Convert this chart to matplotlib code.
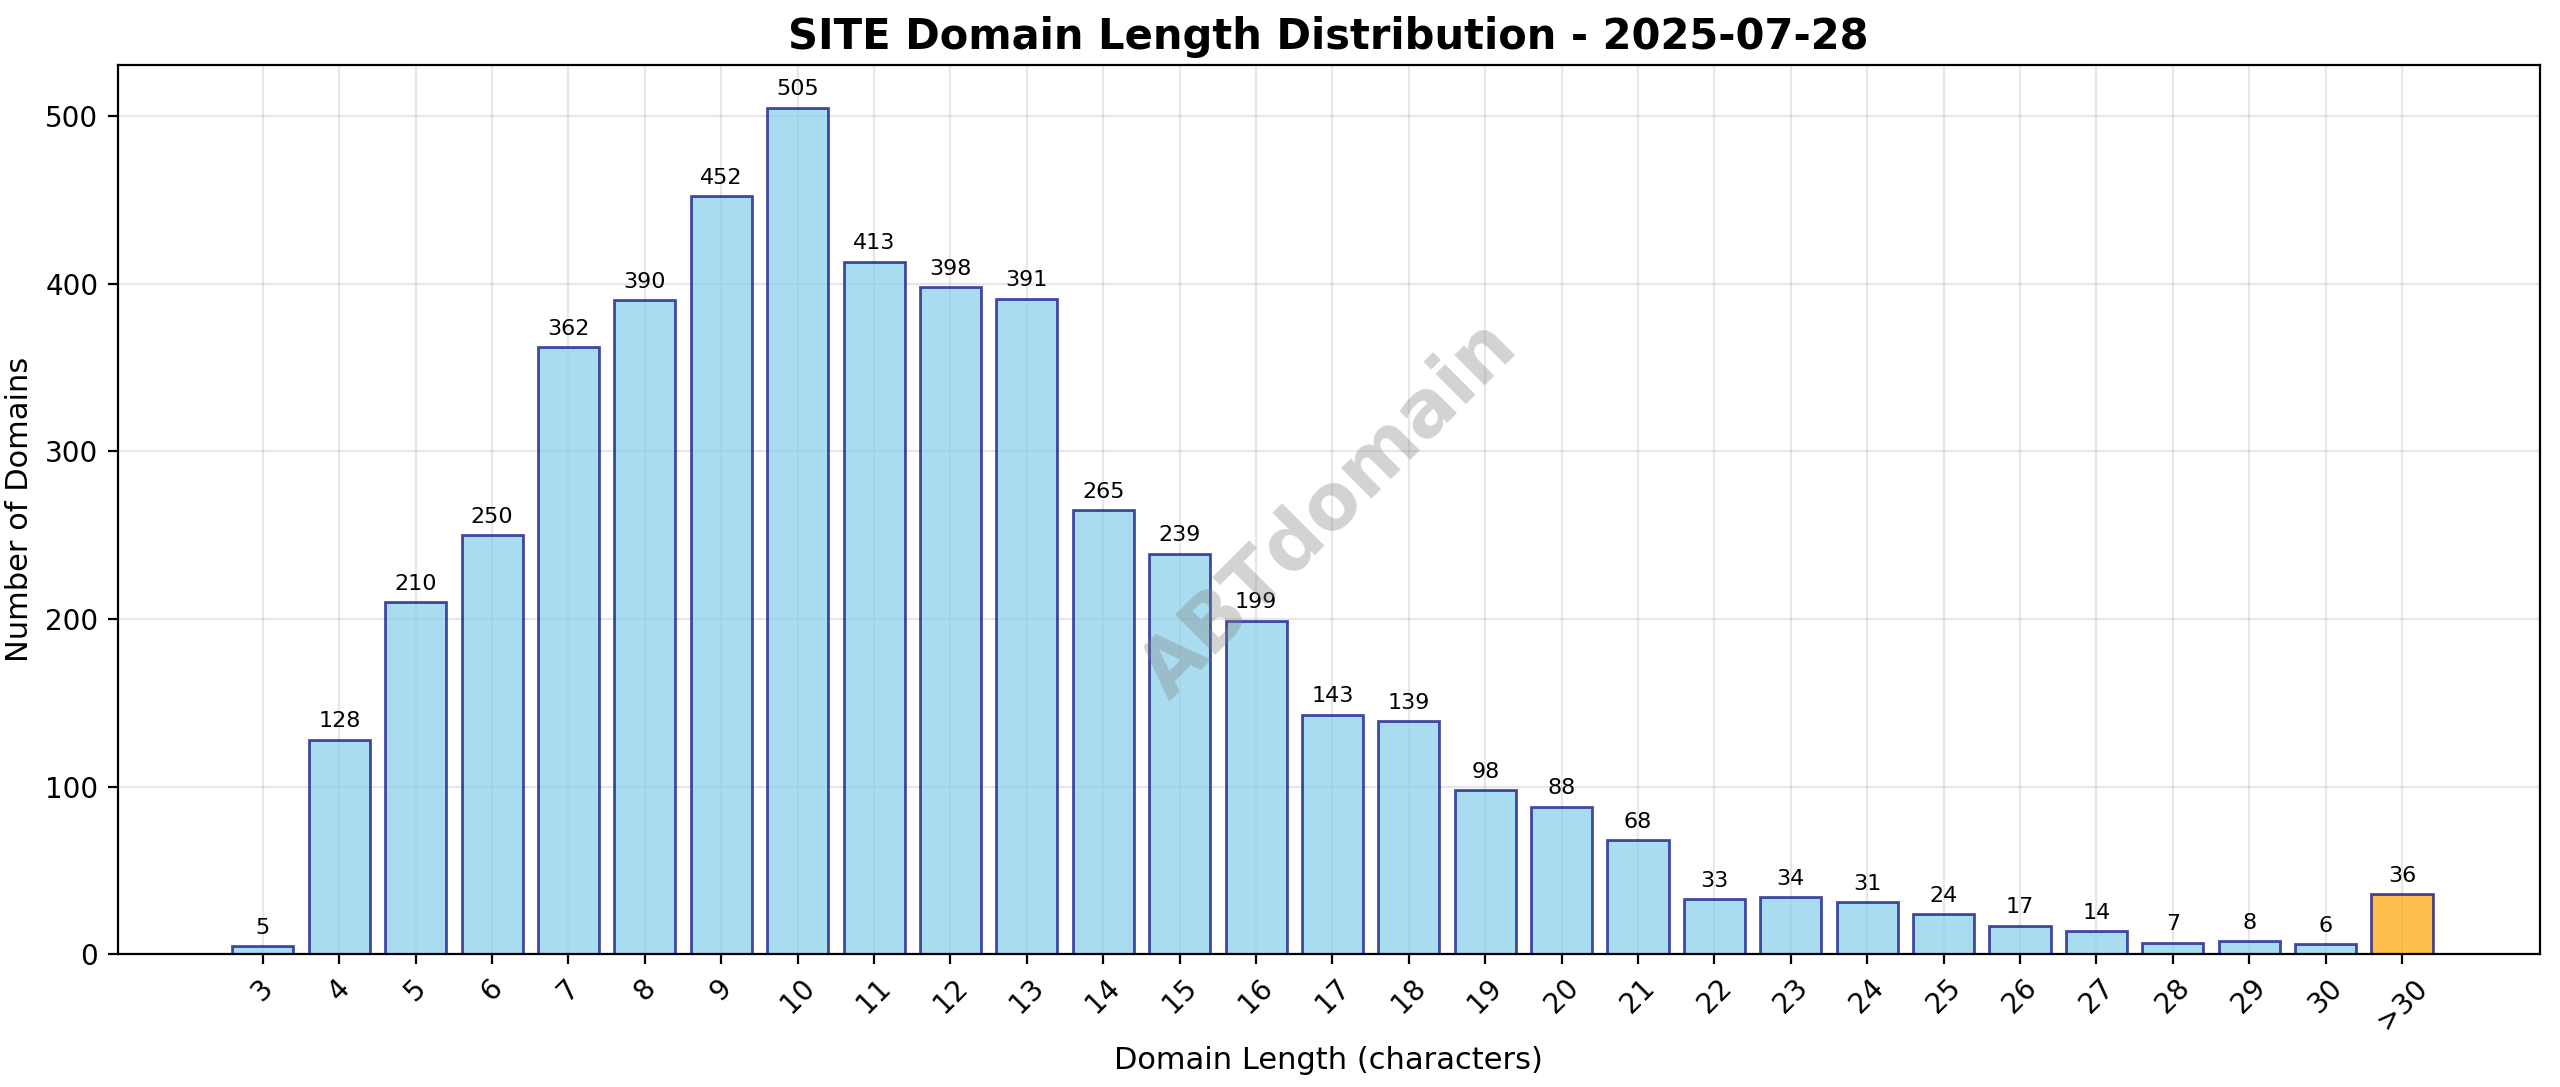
import matplotlib
matplotlib.use("Agg")
import matplotlib.pyplot as plt

lengths = [str(i) for i in range(3, 31)] + [">30"]
counts = [5, 128, 210, 250, 362, 390, 452, 505, 413, 398, 391, 265, 239, 199,
          143, 139, 98, 88, 68, 33, 34, 31, 24, 17, 14, 7, 8, 6, 36]

fig, ax = plt.subplots(figsize=(12.8, 5.435), dpi=200)
colors = ["skyblue"] * (len(counts) - 1) + ["orange"]
x = list(range(len(counts)))
bars = ax.bar(x, counts, color=colors, alpha=0.7, edgecolor="navy", linewidth=1)
for b, v in zip(bars, counts):
    ax.text(b.get_x() + b.get_width() / 2, v + 5, str(v), ha="center", va="bottom", fontsize=8)

ax.set_xticks(x)
ax.set_xticklabels(lengths, rotation=45)
ax.set_xlim(-1.9, 29.8)
ax.set_xlabel("Domain Length (characters)", fontsize=11)
ax.set_ylabel("Number of Domains", fontsize=11)
ax.set_title("SITE Domain Length Distribution - 2025-07-28", fontsize=15, fontweight="bold")
ax.grid(True, alpha=0.3)
ax.set_axisbelow(True)
ax.text(0.5, 0.5, "ABTdomain", transform=ax.transAxes, fontsize=28, color="gray",
        alpha=0.35, rotation=45, ha="center", va="center", fontweight="bold")

fig.subplots_adjust(left=0.046, right=0.992, top=0.94, bottom=0.122)
plt.savefig("out.png", dpi=200)
